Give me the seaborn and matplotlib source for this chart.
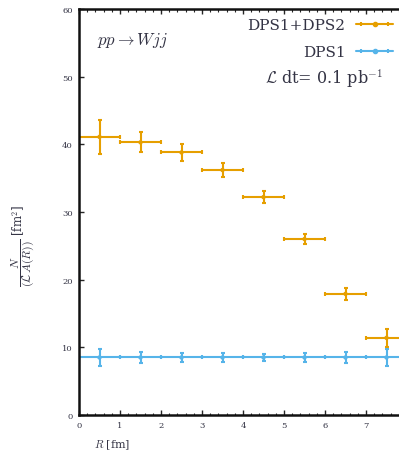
import numpy as np
import pandas as pd
import seaborn as sns
import matplotlib
matplotlib.use("Agg")
import matplotlib.pyplot as plt
from matplotlib.lines import Line2D
from matplotlib.legend_handler import HandlerLine2D

# ---- data ----
r_centers = [0.5, 1.5, 2.5, 3.5, 4.5, 5.5, 6.5, 7.5]
r_halfwidth = [0.5, 0.5, 0.5, 0.5, 0.5, 0.5, 0.5, 0.5]
dps12_vals = [41.1, 40.3, 38.8, 36.2, 32.2, 26.0, 17.9, 11.4]
dps12_errs = [2.5, 1.5, 1.2, 1.0, 0.9, 0.8, 0.9, 1.3]
dps1_vals = [8.5, 8.5, 8.5, 8.5, 8.5, 8.5, 8.5, 8.5]
dps1_errs = [1.2, 0.8, 0.6, 0.6, 0.5, 0.6, 0.8, 1.3]
x_ticks = [0, 1, 2, 3, 4, 5, 6, 7]
y_ticks = [0, 10, 20, 30, 40, 50, 60]

c_orange = "#E69F00"
c_blue = "#56B4E9"
c_text = "#333344"

sns.set_theme(style="ticks")
plt.rcParams["font.family"] = ["DejaVu Serif"]
plt.rcParams["mathtext.fontset"] = "cm"

df = pd.DataFrame({"R": r_centers, "dps12": dps12_vals, "dps1": dps1_vals})

fig = plt.figure(figsize=(3.99, 4.56), dpi=100)
ax = fig.add_axes([79 / 399, 40 / 456, 328 / 399, 406 / 456])

ax.errorbar(df["R"], df["dps1"], xerr=r_halfwidth, yerr=dps1_errs, fmt="none",
            ecolor=c_blue, elinewidth=1.5, capsize=1.5, capthick=1.5, zorder=2)
sns.scatterplot(data=df, x="R", y="dps1", ax=ax, color=c_blue, s=10,
                edgecolor="none", zorder=3)
ax.errorbar(df["R"], df["dps12"], xerr=r_halfwidth, yerr=dps12_errs, fmt="none",
            ecolor=c_orange, elinewidth=1.5, capsize=1.5, capthick=1.5, zorder=2)
sns.scatterplot(data=df, x="R", y="dps12", ax=ax, color=c_orange, s=10,
                edgecolor="none", zorder=3)

ax.set_xlim(0, 8)
ax.set_ylim(0, 60)
ax.set_xticks(x_ticks)
ax.set_xticks(np.arange(0, 8.01, 0.2), minor=True)
ax.set_yticks(y_ticks)
ax.tick_params(axis="both", which="major", direction="in", length=3.5, width=1.0,
               labelsize=6, labelcolor=c_text, top=True, pad=4.5)
ax.tick_params(axis="x", which="minor", direction="in", length=1.8, width=0.8, top=True)
for s in ["left", "bottom", "top"]:
    ax.spines[s].set_linewidth(1.8)
    ax.spines[s].set_color("#111111")
ax.spines["right"].set_visible(False)

ax.set_xlabel(r"$R$ [fm]", fontsize=8, color=c_text, labelpad=2)
ax.xaxis.set_label_coords(0.10, -0.055)
ax.set_ylabel(r"$\dfrac{N}{(\mathcal{L}\,A(R))}$ [fm$^2$]", fontsize=8.5,
              color=c_text)
ax.yaxis.set_label_coords(-0.13, 0.42)

ax.text(0.055, 0.926, r"$pp \rightarrow Wjj$", transform=ax.transAxes,
        fontsize=12, color=c_text, ha="left", va="center")

def eb_handle(color):
    line = Line2D([0], [0], color=color, lw=1.5, marker="o", markersize=3)
    caps = Line2D([0], [0], color=color, lw=0, marker="|", markersize=3,
                  markeredgewidth=1.5)
    return (line, caps)

h1 = eb_handle(c_orange)
h2 = eb_handle(c_blue)
leg = fig.legend([h1, h2], ["DPS1+DPS2", "DPS1"], loc="upper right",
                 bbox_to_anchor=(393 / 399, 1 - 19 / 456), markerfirst=False,
                 frameon=False, fontsize=11, handlelength=2.4, handletextpad=0.7,
                 labelspacing=0.85, borderpad=0, borderaxespad=0,
                 handler_map={h1[1]: HandlerLine2D(numpoints=2),
                              h2[1]: HandlerLine2D(numpoints=2)})
for t in leg.get_texts():
    t.set_color(c_text)
fig.text(383 / 399, 1 - 79 / 456, r"$\mathcal{L}$ dt= 0.1 pb$^{-1}$",
         fontsize=11.5, color=c_text, ha="right", va="center")

fig.savefig("out.png", dpi=100)
